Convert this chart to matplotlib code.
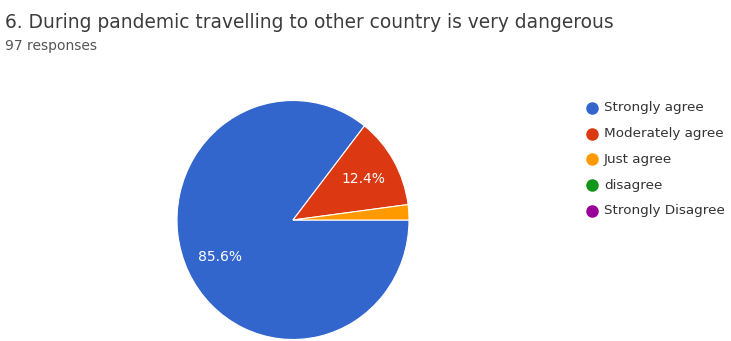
import matplotlib
matplotlib.use("Agg")
import matplotlib.pyplot as plt
from matplotlib.lines import Line2D

# survey answers (97 responses)
labels = ["Strongly agree", "Moderately agree", "Just agree", "disagree", "Strongly Disagree"]
counts = [83, 12, 2, 0, 0]
colors = ["#3366cc", "#dc3912", "#ff9900", "#109618", "#990099"]

title = "6. During pandemic travelling to other country is very dangerous"
subtitle = "97 responses"

W, H = 731, 341
plt.rcParams['font.family'] = ['DejaVu Sans']
fig = plt.figure(figsize=(W / 100, H / 100), dpi=100)

fig.text(5 / W, 1 - 22 / H, title, fontsize=13.4, color="#3c3c3c", va="center", ha="left")
fig.text(5 / W, 1 - 46 / H, subtitle, fontsize=10, color="#555555", va="center", ha="left")

# pie, centred at (293, 220) px; the picture is slightly taller than wide
cx, cy, rx, ry = 293, 220, 116, 119.5
ax = fig.add_axes([(cx - rx) / W, (H - cy - ry) / H, 2 * rx / W, 2 * ry / H])
vals = [c for c in counts if c > 0]
cols = [col for c, col in zip(counts, colors) if c > 0]


def pct(p):
    return f"{p:.1f}%" if p > 5 else ""


ax.pie(vals, colors=cols, startangle=0, counterclock=False, autopct=pct,
       pctdistance=0.7, radius=1,
       wedgeprops=dict(edgecolor="white", linewidth=0.8),
       textprops=dict(color="white", fontsize=10))
ax.set_xlim(-1.0, 1.0)
ax.set_ylim(-1.0, 1.0)
ax.set_aspect("auto")
ax.axis("off")

# legend
lx, ly0, dy = 592, 108, 25.7
for i, (lab, col) in enumerate(zip(labels, colors)):
    y = 1 - (ly0 + i * dy) / H
    fig.add_artist(Line2D([lx / W], [y], marker="o", markersize=8, color=col,
                          linestyle="none", transform=fig.transFigure))
    fig.text((lx + 12) / W, y, lab, fontsize=9.7, color="#333333", va="center", ha="left")

fig.savefig("out.png", dpi=100, facecolor="white")
